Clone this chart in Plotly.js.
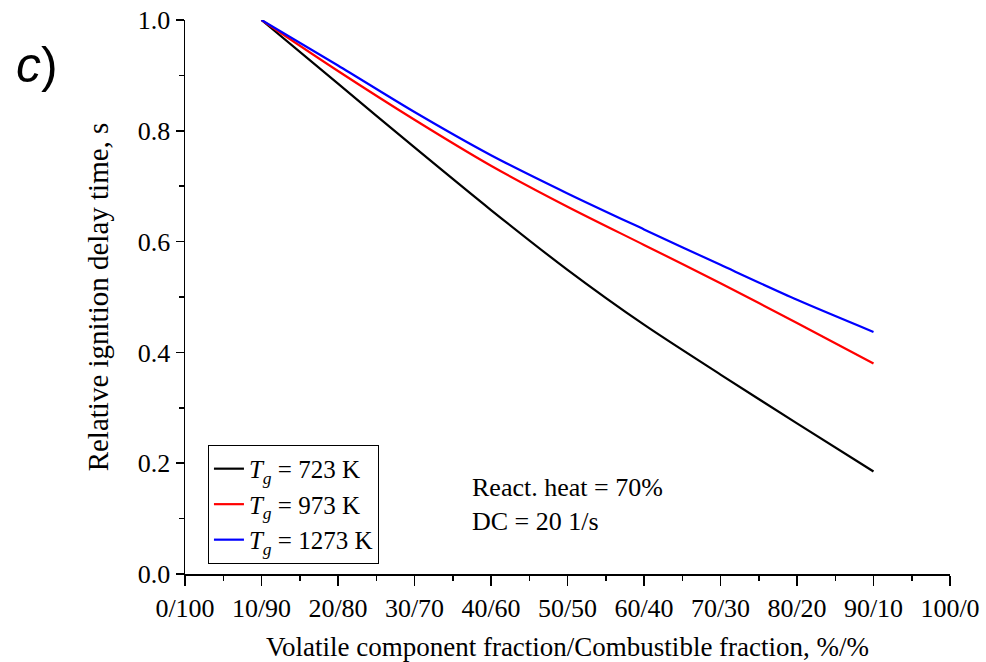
<!DOCTYPE html>
<html>
<head>
<meta charset="utf-8">
<script src="https://cdn.plot.ly/plotly-3.0.1.min.js"></script>
<style>html,body{margin:0;padding:0;background:#fff;}#chart{width:986px;height:662px;}</style>
</head>
<body>
<div id="chart"></div>
<script>
const fractions = [10, 20, 30, 40, 50, 60, 70, 80, 90];
const delay723 = [1.0, 0.885, 0.770, 0.657, 0.549, 0.450, 0.360, 0.272, 0.185];
const delay973 = [1.0, 0.908, 0.820, 0.737, 0.663, 0.594, 0.525, 0.453, 0.380];
const delay1273 = [1.0, 0.918, 0.834, 0.756, 0.687, 0.622, 0.558, 0.495, 0.437];
const tickVals = [0, 10, 20, 30, 40, 50, 60, 70, 80, 90, 100];
const tickLabels = ["0/100", "10/90", "20/80", "30/70", "40/60", "50/50", "60/40", "70/30", "80/20", "90/10", "100/0"];
const seriesNames = ["<i>T</i><sub><i>g</i></sub> = 723 K", "<i>T</i><sub><i>g</i></sub> = 973 K", "<i>T</i><sub><i>g</i></sub> = 1273 K"];

const serif = "Liberation Serif, Times New Roman, serif";
const mk = (y, name, color) => ({
  x: fractions, y: y, name: name, type: 'scatter', mode: 'lines',
  line: {color: color, width: 2.2, shape: 'spline', smoothing: 0.8}
});
const data = [
  mk(delay723, seriesNames[0], '#000000'),
  mk(delay973, seriesNames[1], '#ff0000'),
  mk(delay1273, seriesNames[2], '#0000ff')
];
const layout = {
  width: 986, height: 662,
  margin: {l: 185, r: 36, t: 20, b: 88},
  paper_bgcolor: '#fff', plot_bgcolor: '#fff',
  font: {family: serif, size: 26, color: '#000'},
  showlegend: true,
  legend: {
    x: 0.030, y: 0.233, xanchor: 'left', yanchor: 'top',
    bordercolor: '#000', borderwidth: 1, bgcolor: '#fff',
    font: {family: serif, size: 25, color: '#000'},
    tracegroupgap: 0
  },
  xaxis: {
    range: [0, 100], tickmode: 'array', tickvals: tickVals, ticktext: tickLabels,
    ticks: 'outside', ticklen: 10, tickwidth: 1.5, tickcolor: '#000',
    minor: {dtick: 5, ticks: 'outside', ticklen: 5, tickwidth: 1.5, tickcolor: '#000'},
    showline: true, linecolor: '#000', linewidth: 1.5, mirror: false,
    showgrid: false, zeroline: false,
    tickfont: {family: serif, size: 26, color: '#000'},
    title: {text: 'Volatile component fraction/Combustible fraction, %/%', font: {family: serif, size: 27, color: '#000'}, standoff: 18}
  },
  yaxis: {
    range: [0, 1], tickvals: [0, 0.2, 0.4, 0.6, 0.8, 1.0], tickformat: '.1f',
    ticks: 'outside', ticklen: 8, tickwidth: 1.5, tickcolor: '#000',
    minor: {dtick: 0.1, ticks: 'outside', ticklen: 5, tickwidth: 1.5, tickcolor: '#000'},
    showline: true, linecolor: '#000', linewidth: 1.5, mirror: false,
    showgrid: false, zeroline: false,
    tickfont: {family: serif, size: 26, color: '#000'},
    title: {text: 'Relative ignition delay time, s', font: {family: serif, size: 29, color: '#000'}, standoff: 20}
  },
  annotations: [
    {xref: 'paper', yref: 'paper', x: 0.372, y: 0.186, xanchor: 'left', yanchor: 'top', align: 'left', showarrow: false,
     text: 'React. heat = 70%<br>DC = 20 1/s', font: {family: serif, size: 26, color: '#000'}},
    {xref: 'paper', yref: 'paper', x: -0.224, y: 0.918, xanchor: 'left', yanchor: 'middle', showarrow: false,
     text: '<i>c</i>)', font: {family: 'Liberation Sans, Arial, sans-serif', size: 50, color: '#000'}}
  ]
};
Plotly.newPlot('chart', data, layout, {displayModeBar: false, staticPlot: true});
</script>
</body>
</html>
